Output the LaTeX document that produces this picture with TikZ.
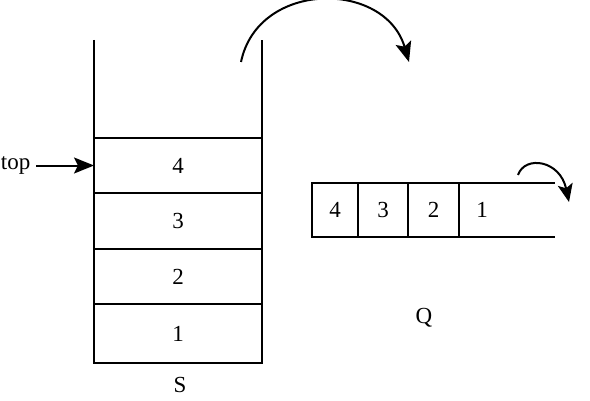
\documentclass[tikz,border=0pt]{standalone}
\usepackage{fontspec}
\setmainfont{Liberation Serif}
\usetikzlibrary{positioning,arrows.meta}
\newcommand{\widthstack}{168pt}
\newcommand{\heightslot}{55pt}
\newcommand{\heightqueue}{54pt}
\tikzset{
    common/.style={draw, rectangle, inner sep=0pt, outer sep=0pt, line width=1.5pt, font=\fontsize{23}{27}\selectfont},
    slot/.style={common, minimum width=\widthstack, minimum height=\heightslot},
    qslot/.style={common, minimum height=\heightqueue},
    caption/.style={inner sep=0pt, font=\fontsize{23}{27}\selectfont},
    move/.style={-{Stealth[length=20pt, width=16pt, inset=4pt]}, line width=2pt}
}
\begin{document}
\begin{tikzpicture}[x=1pt, y=1pt, line width=1.5pt]
    \useasboundingbox (0,0) rectangle (590,400);

    % stack S
    \node[slot, anchor=north west] (S4) at (94,262) {4};
    \node[slot, below=0pt of S4, minimum height=56pt] (S3) {3};
    \node[slot, below=0pt of S3] (S2) {2};
    \node[slot, below=0pt of S2, minimum height=59pt] (S1) {1};
    \coordinate (S-topleft) at (94,360);
    \coordinate (S-topright) at (262,360);
    \draw (S-topleft) -- (S1.south west) -- (S1.south east) -- (S-topright);
    \node[caption] (S) at (180,15) {S};

    \node[caption, left=63pt of S4.west] (top) {top};
    \draw[move, shorten <=5pt] (top) -- (S4);

    % queue Q
    \node[qslot, minimum width=46pt, anchor=south west] (Q4) at (312,163) {4};
    \node[qslot, minimum width=50pt, right=0pt of Q4] (Q3) {3};
    \node[qslot, minimum width=51pt, right=0pt of Q3] (Q2) {2};
    \coordinate (Q-topend) at (555,217);
    \coordinate (Q-botend) at (555,163);
    \draw (Q2.north east) -- (Q-topend) (Q2.south east) -- (Q-botend);
    \node[caption] (Q1) at (482,190) {1};
    \node[caption] (Q) at (424,82) {Q};

    % moves
    \coordinate (push-from) at (241,338);
    \coordinate (push-to) at (409,338);
    \draw[move] (push-from) .. controls (258,420) and (385,420) .. (push-to);
    \coordinate (deq-from) at (518,225);
    \coordinate (deq-to) at (569,198);
    \draw[move, -{Stealth[length=18pt, width=15pt, inset=4pt]}] (deq-from) .. controls (525,245) and (560,240) .. (deq-to);
\end{tikzpicture}
\end{document}
